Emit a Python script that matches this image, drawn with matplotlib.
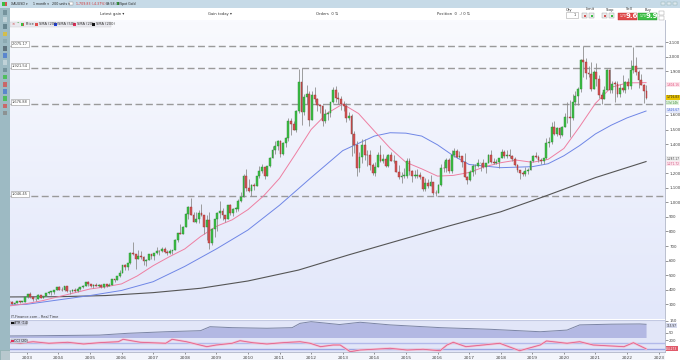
import numpy as np
import matplotlib
matplotlib.use("Agg")
import matplotlib.pyplot as plt
from matplotlib.patches import Rectangle
from matplotlib.colors import LinearSegmentedColormap

# monthly spot gold, Jan 2002 .. Aug 2022
closes = [
    282, 297, 302, 309, 326, 318, 304, 312, 323, 317, 318, 347,
    368, 348, 334, 337, 361, 346, 354, 375, 385, 386, 398, 417,
    400, 396, 427, 388, 393, 395, 391, 408, 416, 429, 453, 438,
    423, 434, 428, 435, 417, 436, 429, 433, 473, 470, 495, 518,
    569, 557, 583, 655, 643, 614, 633, 624, 599, 604, 648, 632,
    651, 665, 663, 679, 659, 650, 665, 672, 743, 789, 783, 834,
    923, 971, 916, 864, 886, 928, 912, 833, 880, 718, 816, 884,
    928, 942, 916, 883, 979, 927, 955, 955, 1008, 1040, 1182, 1096,
    1081, 1118, 1113, 1180, 1213, 1244, 1181, 1248, 1307, 1357, 1385, 1421,
    1333, 1410, 1439, 1556, 1536, 1500, 1628, 1826, 1620, 1722, 1746, 1564,
    1738, 1710, 1668, 1664, 1561, 1604, 1614, 1692, 1772, 1719, 1712, 1675,
    1663, 1578, 1596, 1472, 1393, 1234, 1312, 1395, 1327, 1323, 1253, 1202,
    1244, 1326, 1284, 1295, 1250, 1327, 1282, 1287, 1208, 1171, 1182, 1184,
    1283, 1212, 1183, 1183, 1190, 1172, 1095, 1133, 1115, 1142, 1065, 1061,
    1118, 1238, 1233, 1293, 1215, 1322, 1351, 1309, 1316, 1277, 1173, 1151,
    1211, 1249, 1249, 1268, 1268, 1242, 1269, 1322, 1280, 1271, 1275, 1303,
    1345, 1318, 1325, 1315, 1299, 1253, 1224, 1201, 1192, 1215, 1222, 1282,
    1321, 1313, 1292, 1284, 1305, 1409, 1413, 1520, 1472, 1513, 1464, 1517,
    1589, 1585, 1577, 1686, 1730, 1781, 1975, 1967, 1886, 1879, 1776, 1895,
    1848, 1734, 1708, 1769, 1906, 1770, 1814, 1813, 1743, 1783, 1774, 1829,
    1796, 1909, 1937, 1897, 1838, 1807, 1766, 1717,
]
highs = [
    283, 298, 304, 311, 327, 330, 325, 316, 325, 324, 322, 349,
    372, 383, 353, 340, 371, 366, 359, 376, 390, 391, 398, 417,
    427, 418, 428, 427, 395, 404, 409, 416, 418, 430, 456, 457,
    438, 438, 445, 436, 438, 442, 430, 448, 475, 477, 497, 538,
    570, 574, 584, 656, 730, 640, 672, 663, 634, 609, 648, 640,
    652, 690, 671, 692, 691, 672, 680, 675, 745, 791, 848, 836,
    930, 976, 1033, 933, 935, 946, 988, 915, 914, 935, 826, 884,
    935, 1007, 961, 915, 979, 991, 960, 966, 1024, 1070, 1195, 1227,
    1162, 1127, 1135, 1180, 1249, 1265, 1211, 1248, 1311, 1387, 1424, 1431,
    1425, 1414, 1448, 1576, 1577, 1561, 1632, 1913, 1921, 1745, 1803, 1764,
    1764, 1791, 1719, 1678, 1666, 1640, 1627, 1692, 1790, 1796, 1755, 1727,
    1696, 1683, 1617, 1605, 1487, 1424, 1348, 1433, 1434, 1361, 1361, 1267,
    1279, 1345, 1392, 1331, 1315, 1332, 1345, 1324, 1287, 1255, 1208, 1239,
    1307, 1307, 1220, 1224, 1232, 1205, 1175, 1170, 1157, 1191, 1142, 1088,
    1128, 1263, 1283, 1303, 1305, 1362, 1375, 1367, 1352, 1318, 1337, 1181,
    1220, 1264, 1261, 1295, 1270, 1296, 1271, 1331, 1358, 1306, 1298, 1307,
    1366, 1361, 1356, 1366, 1326, 1309, 1265, 1221, 1214, 1243, 1237, 1284,
    1326, 1346, 1324, 1303, 1306, 1439, 1452, 1555, 1557, 1517, 1516, 1525,
    1611, 1689, 1704, 1747, 1765, 1789, 1984, 2075, 1992, 1933, 1965, 1906,
    1959, 1871, 1755, 1798, 1913, 1917, 1832, 1834, 1834, 1814, 1877, 1831,
    1853, 1974, 2070, 1998, 1910, 1879, 1814, 1807,
]
lows = [
    277, 281, 289, 299, 307, 315, 302, 300, 311, 311, 314, 316,
    341, 346, 324, 320, 336, 341, 341, 354, 371, 367, 373, 396,
    398, 390, 390, 386, 372, 385, 387, 387, 398, 411, 423, 425,
    418, 410, 425, 422, 414, 414, 418, 428, 433, 456, 466, 489,
    516, 538, 538, 580, 637, 543, 614, 612, 573, 560, 606, 612,
    603, 648, 636, 662, 651, 641, 648, 642, 670, 725, 781, 781,
    832, 886, 918, 863, 855, 860, 908, 786, 740, 681, 705, 760,
    802, 893, 880, 865, 884, 915, 906, 931, 941, 1003, 1041, 1075,
    1074, 1045, 1087, 1111, 1164, 1201, 1157, 1191, 1242, 1306, 1330, 1360,
    1308, 1322, 1381, 1419, 1462, 1496, 1480, 1616, 1532, 1598, 1672, 1522,
    1562, 1689, 1627, 1613, 1527, 1548, 1562, 1587, 1683, 1692, 1672, 1636,
    1626, 1555, 1562, 1321, 1338, 1180, 1208, 1271, 1292, 1251, 1221, 1187,
    1182, 1240, 1277, 1268, 1240, 1240, 1281, 1272, 1206, 1160, 1131, 1167,
    1167, 1190, 1142, 1170, 1169, 1162, 1077, 1080, 1099, 1136, 1052, 1046,
    1061, 1111, 1208, 1208, 1200, 1200, 1311, 1302, 1302, 1241, 1171, 1123,
    1146, 1180, 1195, 1244, 1214, 1236, 1204, 1267, 1271, 1260, 1264, 1236,
    1302, 1307, 1303, 1302, 1282, 1250, 1211, 1160, 1180, 1182, 1196, 1221,
    1275, 1302, 1280, 1266, 1266, 1301, 1381, 1400, 1459, 1458, 1445, 1456,
    1517, 1547, 1451, 1568, 1670, 1671, 1757, 1863, 1848, 1860, 1765, 1775,
    1802, 1717, 1677, 1724, 1770, 1750, 1750, 1688, 1721, 1721, 1758, 1753,
    1780, 1780, 1890, 1872, 1787, 1805, 1681, 1711,
]

# moving averages
sma20_t = [2002.0, 2002.5, 2003.0, 2003.5, 2004.0, 2004.5, 2005.0, 2005.5, 2006.0, 2006.5,
           2007.0, 2007.5, 2008.0, 2008.5, 2009.0, 2009.5, 2010.0, 2010.5, 2011.0, 2011.5,
           2012.0, 2012.5, 2013.0, 2013.5, 2014.0, 2014.5, 2015.0, 2015.5, 2016.0, 2016.5,
           2017.0, 2017.5, 2018.0, 2018.5, 2019.0, 2019.5, 2020.0, 2020.5, 2021.0, 2021.5,
           2022.0, 2022.6]
sma20_v = [280, 290, 305, 325, 352, 378, 405, 420, 440, 495,
           565, 625, 680, 765, 835, 880, 950, 1045, 1165, 1330,
           1500, 1610, 1675, 1610, 1490, 1372, 1275, 1230, 1180, 1185,
           1205, 1245, 1272, 1290, 1275, 1295, 1370, 1520, 1680, 1790,
           1820, 1822]
sma50_t = [2002.0, 2003.0, 2004.0, 2005.0, 2006.0, 2007.0, 2008.0, 2009.0, 2010.0, 2011.0,
           2012.0, 2013.0, 2014.0, 2014.5, 2015.0, 2015.5, 2016.0, 2016.5, 2017.0, 2018.0,
           2019.0, 2019.5, 2020.0, 2020.5, 2021.0, 2021.5, 2022.0, 2022.6]
sma50_v = [290, 300, 330, 360, 395, 455, 560, 680, 810, 980,
           1170, 1355, 1455, 1478, 1475, 1455, 1395, 1320, 1260, 1238,
           1245, 1265, 1320, 1390, 1470, 1530, 1580, 1627]
sma200_t = [2002.0, 2004.0, 2005.5, 2007.0, 2008.5, 2010.0, 2011.6, 2013.2, 2014.8, 2016.4,
            2018.0, 2019.45, 2021.0, 2022.6]
sma200_v = [350, 352, 360, 380, 410, 460, 535, 640, 740, 840,
            935, 1046, 1170, 1280]

atr_t = [2002.0, 2003.5, 2005.3, 2006.2, 2007.4, 2008.5, 2008.8, 2009.5, 2010.6, 2011.4,
         2011.65, 2012.0, 2012.9, 2013.55, 2014.5, 2016.1, 2017.7, 2019.25, 2020.1, 2020.5,
         2021.5, 2022.4, 2022.6]
atr_v = [22, 25, 30, 45, 58, 67, 100, 92, 87, 92,
         128, 142, 118, 137, 115, 92, 78, 58, 72, 115,
         121, 123, 120]

cci_t = [2002.0, 2002.8, 2003.2, 2003.7, 2004.3, 2004.8, 2005.3, 2005.9, 2006.05, 2006.6,
         2007.4, 2007.6, 2008.05, 2008.7, 2009.0, 2009.5, 2009.75, 2010.15, 2010.6, 2011.1,
         2011.65, 2011.97, 2012.3, 2012.7, 2012.92, 2013.24, 2013.55, 2013.97, 2014.5, 2015.04,
         2015.55, 2016.08, 2016.3, 2016.5, 2016.9, 2017.44, 2017.97, 2018.6, 2019.25, 2019.45,
         2020.1, 2020.5, 2020.93, 2021.9, 2022.2, 2022.6]
cci_v = [187, 100, 153, 100, 133, 77, 120, 153, 233, 133,
         100, 233, 153, -13, 43, 100, 187, 120, 77, 120,
         153, 100, -13, 43, 43, -180, -123, -100, -67, -123,
         -100, -147, 43, 133, -13, 43, 100, -147, 43, 177,
         100, 153, 43, -13, 120, -84]

level_values = [2075.17, 1921.54, 1676.88, 1046.45]
level_labels = ["2,075.17", "1,921.54", "1,676.88", "1,046.45"]
price_ticks = list(range(300, 2101, 100))
hidden_ticks = [1300, 1700, 1800]   # covered by value tags in the reference
year_ticks = list(range(2003, 2024))

W, H = 680, 360
XMIN, XMAX = 2002.47, 2023.2


def px(x0, y0, x1, y1):
    return [x0 / W, 1 - y1 / H, (x1 - x0) / W, (y1 - y0) / H]


fig = plt.figure(figsize=(6.8, 3.6), dpi=100)

# window chrome behind everything
bg = fig.add_axes([0, 0, 1, 1], zorder=-5)
bg.set_xlim(0, W)
bg.set_ylim(H, 0)
bg.axis("off")
bg.add_patch(Rectangle((0, 0), W, 7.5, fc="#c6dae7", ec="none"))
bg.add_patch(Rectangle((0, 7.5), 9.5, H, fc="#9dbac3", ec="none"))
bg.add_patch(Rectangle((0, 350), 9.5, 10, fc="#b8c8ce", ec="#8aa", lw=0.4))
bg.add_patch(Rectangle((9.5, 352), 655.5, 8, fc="#f3f5fb", ec="none"))

# ---- main price panel
ax = fig.add_axes(px(10, 20, 665, 319))
grad = LinearSegmentedColormap.from_list("g", ["#f9fafe", "#e2e7fa"])
ax.imshow(np.linspace(0, 1, 100).reshape(-1, 1), cmap=grad, aspect="auto",
          extent=[XMIN, XMAX, 199, 2252], zorder=0)

t = 2002 + (np.arange(len(closes)) + 0.35) / 12
c = np.array(closes, float)
o = np.concatenate([[279.0], c[:-1]])
hi = np.maximum.reduce([np.array(highs, float), o, c])
lo = np.minimum.reduce([np.array(lows, float), o, c])
up = c >= o

for v in level_values:
    ax.axhline(v, color="#9a9a9a", lw=1.0, ls=(0, (5, 2.5)), zorder=1)

ax.plot(sma200_t, sma200_v, color="#555555", lw=0.8, zorder=2)
ax.plot(sma50_t, sma50_v, color="#6f86e6", lw=0.7, zorder=2)
ax.plot(sma20_t, sma20_v, color="#ee7fa2", lw=0.7, zorder=2)

ax.vlines(t, lo, hi, color="#8e8e8e", lw=0.6, zorder=3)
body_lo = np.minimum(o, c)
body_h = np.maximum(np.abs(c - o), 3)
ax.bar(t[up], body_h[up], bottom=body_lo[up], width=0.058,
       color="#3cbf45", edgecolor="#2b8a33", lw=0.3, zorder=4)
ax.bar(t[~up], body_h[~up], bottom=body_lo[~up], width=0.058,
       color="#d35454", edgecolor="#9c3434", lw=0.3, zorder=4)

ax.set_xlim(XMIN, XMAX)
ax.set_ylim(199, 2252)
ax.yaxis.tick_right()
ax.set_yticks(price_ticks)
ax.set_yticklabels(["" if v in hidden_ticks else f"{v:,}" for v in price_ticks])
ax.tick_params(axis="y", labelsize=2.9, length=2, width=0.4, colors="#444", pad=1)
ax.set_xticks([])
for s in ["top", "left", "bottom"]:
    ax.spines[s].set_visible(False)
ax.spines["right"].set_color("#b0b5c8")
ax.spines["right"].set_linewidth(0.6)

ytr = ax.get_yaxis_transform()
for v, lab in zip(level_values, level_labels):
    ax.text(0.003, v + 12, lab, transform=ytr, fontsize=2.6, color="#444", va="center",
            bbox=dict(boxstyle="square,pad=0.3", fc="white", ec="#999", lw=0.4), zorder=6)

right_tags = [
    (1808, "1,804.16", "#fde4ec", "#e0507a"),
    (1720, "1,716.83", "#e8c200", "#222"),
    (1684, "13d 14h", "#e1f2dc", "#3a8a3a"),
    (1632, "1,626.67", "#e3e8fb", "#3d5fd0"),
    (1300, "1,287.17", "#eeeeee", "#444"),
    (1266, "1,271.72", "#fbe6ee", "#d0507a"),
]
for v, lab, fc, tc in right_tags:
    ax.text(1.002, v, lab, transform=ytr, fontsize=2.1, color=tc, va="center",
            bbox=dict(boxstyle="square,pad=0.15", fc=fc, ec="none"), clip_on=False, zorder=6)

# ---- ATR panel
ax2 = fig.add_axes(px(10, 319.5, 665, 338))
ax2.set_facecolor("#e2e6f8")
ax2.fill_between(atr_t, 0, atr_v, color="#b3b8e3", lw=0)
ax2.plot(atr_t, atr_v, color="#7b84a4", lw=0.7)
ax2.set_xlim(XMIN, XMAX)
ax2.set_ylim(5.8, 160)
ax2.yaxis.tick_right()
ax2.set_yticks([50, 150])
ax2.tick_params(axis="y", labelsize=2.8, length=2, width=0.4, colors="#444", pad=1)
ax2.set_xticks([])
for s in ["top", "left", "bottom"]:
    ax2.spines[s].set_visible(False)
ax2.spines["right"].set_color("#b0b5c8")
ax2.spines["right"].set_linewidth(0.6)
ax2.axhline(159, color="#c3c9e2", lw=0.8)
ax2.text(1.002, 108, "115.97", transform=ax2.get_yaxis_transform(), fontsize=2.1, color="#333",
         va="center", bbox=dict(boxstyle="square,pad=0.15", fc="#d7dbef", ec="none"), clip_on=False)

# ---- CCI panel
ax3 = fig.add_axes(px(10, 338, 665, 352))
ax3.set_facecolor("#e2e6f8")
ax3.axhline(100, color="#b2b9ea", lw=1.0)
ax3.axhline(-100, color="#9aa3e2", lw=1.0)
ax3.plot(cci_t, cci_v, color="#f5bfd0", lw=1.6)
ax3.plot(cci_t, cci_v, color="#e0608c", lw=0.6)
ax3.set_xlim(XMIN, XMAX)
ax3.set_ylim(-190, 276)
ax3.yaxis.tick_right()
ax3.set_yticks([200])
ax3.tick_params(axis="y", labelsize=2.8, length=2, width=0.4, colors="#444", pad=1)
ax3.set_xticks(year_ticks)
ax3.set_xticklabels([str(y) for y in year_ticks])
ax3.tick_params(axis="x", labelsize=3.2, length=1.5, width=0.4, colors="#444", pad=1.5)
for s in ["top", "left"]:
    ax3.spines[s].set_visible(False)
ax3.spines["right"].set_color("#b0b5c8")
ax3.spines["bottom"].set_color("#b0b5c8")
ax3.spines["right"].set_linewidth(0.6)
ax3.spines["bottom"].set_linewidth(0.6)
ax3.text(1.002, -84, "-84.273", transform=ax3.get_yaxis_transform(), fontsize=2.1, color="white",
         va="center", bbox=dict(boxstyle="square,pad=0.15", fc="#e05a6a", ec="none"), clip_on=False)

# ---- texts and chrome on top
fg = fig.add_axes([0, 0, 1, 1], zorder=10)
fg.set_xlim(0, W)
fg.set_ylim(H, 0)
fg.axis("off")

# top bar
fg.add_patch(Rectangle((2, 1.5), 2.5, 4, fc="#3cbf45", ec="none"))
fg.add_patch(Rectangle((4.5, 1.5), 2.5, 4, fc="#d35454", ec="none"))
for x, lab, col in [(11, "XAUUSD \u25be", "#222"), (33, "1 month \u25be", "#222"),
                    (52, "200 units \u25be", "#222"), (76, "1,709.83 (-4.37%)", "#d03030"),
                    (106, "09:58:38", "#222"), (120, "Spot Gold", "#222")]:
    fg.text(x, 3.8, lab, fontsize=2.3, color=col, va="center")
fg.add_patch(Rectangle((117, 2.4), 2.2, 2.6, fc="#3cbf45", ec="none"))
fg.add_patch(Rectangle((69, 1.8), 4, 3.6, fc="white", ec="#888", lw=0.3))
for x in [661, 667, 673]:
    fg.add_patch(Rectangle((x, 1.8), 4, 3.6, fc="#dde8ef", ec="#8aa", lw=0.3))

# order row
for x, lab in [(100, "Latest gain \u25be"), (208, "Gain today \u25be"),
               (316, "Orders  0 \u21c5"), (437, "Position  0  -/ 0 \u21c5")]:
    fg.text(x, 14, lab, fontsize=2.7, color="#333", va="center")
fg.text(566, 9.5, "Qty", fontsize=2.6, color="#333", va="center")
fg.add_patch(Rectangle((566, 12), 12, 6, fc="white", ec="#aaa", lw=0.4))
fg.text(576, 15, "1", fontsize=2.4, color="#333", va="center", ha="right")
fg.text(586, 9.5, "Limit", fontsize=2.6, color="#333", va="center")
fg.text(606, 9.5, "Stop", fontsize=2.6, color="#333", va="center")
for x in [582, 589, 602, 609]:
    fg.add_patch(Rectangle((x, 13), 5, 5, fc="#eeeeee", ec="#999", lw=0.3))
    fg.add_patch(Rectangle((x + 1.5, 14.5), 2, 2, fc="#d35454" if x in (582, 602) else "#3cbf45", ec="none"))
fg.text(626, 9.5, "Sell", fontsize=2.6, color="#333", va="center")
fg.text(645, 9.5, "Buy", fontsize=2.6, color="#333", va="center")
fg.add_patch(Rectangle((618, 12.5), 19, 7, fc="#e04a4a", ec="#b33", lw=0.3))
fg.add_patch(Rectangle((638, 12.5), 19, 7, fc="#3cbf45", ec="#2b8a33", lw=0.3))
fg.text(619.5, 16.3, "1,70", fontsize=2.2, color="white", va="center")
fg.text(626, 16, "9.6", fontsize=5, color="white", va="center", fontweight="bold")
fg.text(639.5, 16.3, "1,70", fontsize=2.2, color="white", va="center")
fg.text(646, 16, "9.9", fontsize=5, color="white", va="center", fontweight="bold")
fg.add_patch(Rectangle((659, 11), 5, 4, fc="white", ec="#999", lw=0.3))
fg.add_patch(Rectangle((659, 16), 5, 4, fc="white", ec="#999", lw=0.3))

# left toolbar icons
icon_cols = ["#6b8a94", "#c9d9de", "#5a7a84", "#e0c030", "#8aa6ae", "#50606a", "#4a7ad0",
             "#c9d9de", "#6b8a94", "#3cbf45", "#d35454", "#4a7ad0", "#3cbf45", "#d35454", "#888"]
for i, col in enumerate(icon_cols):
    fg.add_patch(Rectangle((2.5, 10 + i * 7.2), 4.5, 4.5, fc=col, ec="none", alpha=0.8))

# legend strip
fg.add_patch(Rectangle((10, 21.5), 101, 5.5, fc="#e9e9ef", ec="#ccc", lw=0.3))
fg.text(11, 24.3, "\u00d7", fontsize=2.8, color="#c33", va="center")
fg.text(16, 24.3, "\u2022", fontsize=2.8, color="#3a3", va="center")
fg.add_patch(Rectangle((21, 22.5), 1.5, 3.5, fc="#3cbf45", ec="none"))
fg.add_patch(Rectangle((22.5, 22.5), 1.5, 3.5, fc="#d35454", ec="none"))
legend_items = [(26, None, "Price"), (35, "#e05050", "SMA (200)"), (54, "#2040e0", "SMA (50)"),
                (73, "#e0305a", "SMA (20)"), (92, "#111111", "SMA (200)")]
for x, col, lab in legend_items:
    tx = x
    if col is not None:
        fg.add_patch(Rectangle((x, 22.5), 3, 3.5, fc=col, ec="none"))
        tx = x + 4
    fg.text(tx, 24.3, lab, fontsize=2.6, color="#333", va="center")

# lower panel captions
fg.text(11, 317, "IT-Finance.com - Real Time", fontsize=2.5, color="#333", va="center")
fg.add_patch(Rectangle((10.5, 320.5), 16, 4.5, fc="#d0d4e8", ec="#999", lw=0.3))
fg.add_patch(Rectangle((11.3, 321.5), 2.4, 2.5, fc="#111", ec="none"))
fg.text(14.5, 322.8, "ATR (14)", fontsize=2.4, color="#222", va="center")
fg.add_patch(Rectangle((10.5, 338.8), 16, 4.5, fc="#d0d4e8", ec="#999", lw=0.3))
fg.add_patch(Rectangle((11.3, 339.8), 2.4, 2.5, fc="#e0305a", ec="none"))
fg.text(14.5, 341.1, "CCI (20)", fontsize=2.4, color="#222", va="center")

fig.savefig("out.png", dpi=100)
